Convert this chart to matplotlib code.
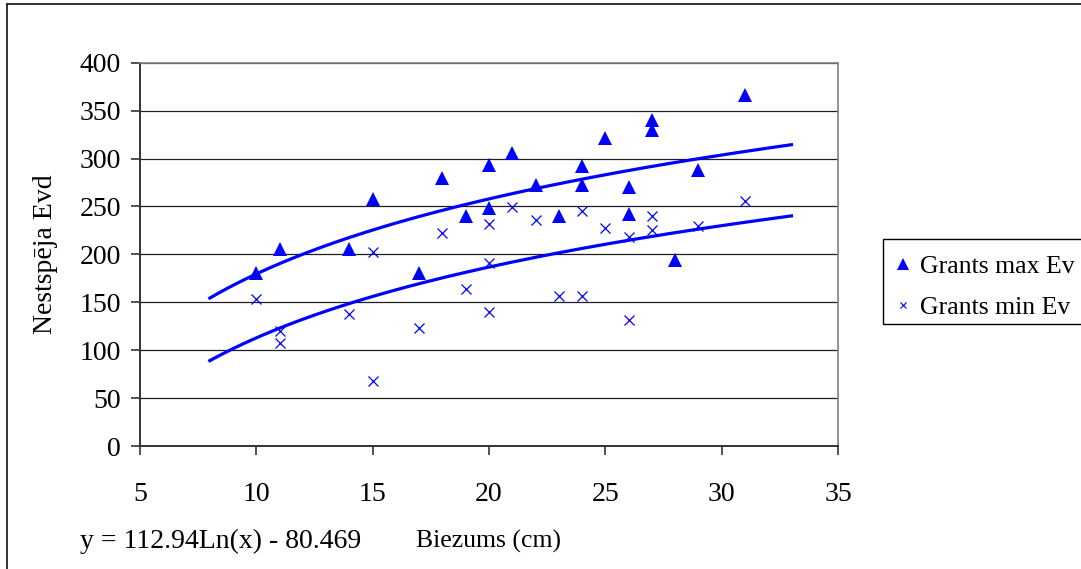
import numpy as np
import matplotlib
matplotlib.use("Agg")
import matplotlib.pyplot as plt
from matplotlib.lines import Line2D
from matplotlib.patches import Rectangle

# ---- data ----
max_x = [10, 11, 14, 15, 17, 18, 19, 20, 20, 21, 22, 23, 24, 24, 25, 26, 26, 27, 27, 28, 29, 31]
max_y = [181, 206, 206, 258, 181, 280, 240, 293, 248, 306, 272, 240, 292, 272, 321, 270, 242, 340, 330, 194, 288, 366]

min_x = [10, 11, 11, 14, 15, 15, 17, 18, 19, 20, 20, 20, 21, 22, 23, 24, 24, 25, 26, 26, 27, 27, 29, 31]
min_y = [153, 120, 108, 138, 202, 68, 123, 222, 164, 232, 191, 140, 249, 236, 157, 245, 157, 227, 218, 131, 240, 225, 230, 256]

# logarithmic trend lines y = a*ln(x) + b
trend_max = (112.94, -80.469)
trend_min = (106.6, -132.6)
trend_range = (8, 33)

x_ticks = [5, 10, 15, 20, 25, 30, 35]
y_ticks = [0, 50, 100, 150, 200, 250, 300, 350, 400]
series_labels = ["Grants max Ev", "Grants min Ev"]
equation_text = "y = 112.94Ln(x) - 80.469"
x_title = "Biezums (cm)"
y_title = "Nestspēja Evd"

plt.rcParams['font.family'] = ['Liberation Serif', 'DejaVu Serif']
FS = 20
FS_SMALL = 18.5
BLUE = '#0000FF'

W, H = 1081, 569
fig = plt.figure(figsize=(W / 100, H / 100), dpi=100)
fig.patch.set_facecolor('white')

ax = fig.add_axes([140 / W, 1 - 446 / H, (838 - 140) / W, (446 - 62.7) / H])
ax.set_xlim(5, 35)
ax.set_ylim(0, 400)
ax.set_xticks(x_ticks)
ax.set_yticks(y_ticks)
ax.tick_params(axis='both', direction='out', length=6.5, width=1.2, color='#333333',
               labelsize=FS, labelcolor='black')
ax.tick_params(axis='x', pad=19.5)
ax.tick_params(axis='y', pad=7)

ax.yaxis.grid(True, color='#202020', linewidth=0.9)
ax.set_axisbelow(True)
for s in ['left', 'bottom']:
    ax.spines[s].set_color('#333333')
    ax.spines[s].set_linewidth(1.4)
ax.spines['right'].set_color('#808080')
ax.spines['right'].set_linewidth(1.2)
ax.spines['top'].set_color('#808080')
ax.spines['top'].set_linewidth(1.2)

# trend lines
xs = np.linspace(trend_range[0], trend_range[1], 200)
for a, b in (trend_max, trend_min):
    ax.plot(xs, a * np.log(xs) + b, color=BLUE, linewidth=2.3, zorder=3)

# scatter points
ax.plot(max_x, max_y, linestyle='none', marker='^', markersize=9.5, color=BLUE,
        markeredgewidth=0, zorder=4)
ax.plot(min_x, min_y, linestyle='none', marker='x', markersize=6.5, color=BLUE,
        markeredgewidth=0.9, zorder=4)

ax.set_ylabel(y_title, fontsize=FS)
ax.yaxis.set_label_coords(-(140 - 58) / (838 - 140), 0.5)

fig.text(489 / W, 1 - 541 / H, x_title, fontsize=FS_SMALL, ha='center', va='center')
fig.text(80 / W, 1 - 541 / H, equation_text, fontsize=FS, ha='left', va='center')

handles = [
    Line2D([], [], linestyle='none', marker='^', markersize=8, color=BLUE, markeredgewidth=0),
    Line2D([], [], linestyle='none', marker='x', markersize=5, color=BLUE, markeredgewidth=0.8),
]
leg = fig.legend(handles, series_labels, loc='center left',
                 bbox_to_anchor=(883 / W, 1 - 287 / H), bbox_transform=fig.transFigure,
                 fontsize=FS_SMALL, frameon=False, borderaxespad=0,
                 borderpad=0.4, handlelength=0.75, handletextpad=0.28, labelspacing=0.67)

# legend frame (extends past the right edge, as in the original)
fig.add_artist(Rectangle((883 / W, 1 - 324 / H), (1100 - 883) / W, (324 - 239) / H,
                         transform=fig.transFigure, facecolor='none',
                         edgecolor='black', linewidth=1.0, clip_on=False))

# outer chart border (top and left visible)
fig.add_artist(Line2D([7 / W, 7 / W], [0, 1 - 4 / H], transform=fig.transFigure,
                      color='#222222', linewidth=1.3))
fig.add_artist(Line2D([7 / W, 1], [1 - 4 / H, 1 - 4 / H], transform=fig.transFigure,
                      color='#222222', linewidth=1.3))

fig.savefig('out.png', dpi=100, facecolor='white')
